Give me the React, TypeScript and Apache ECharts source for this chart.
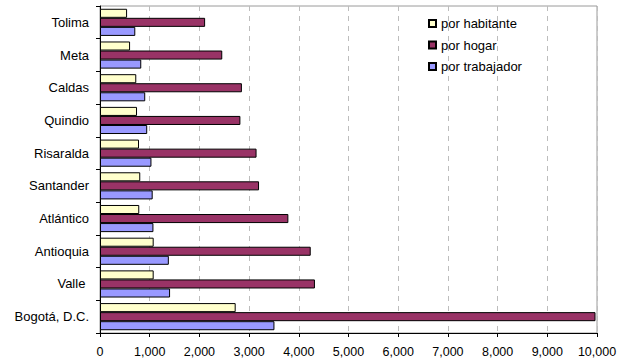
import React, { useEffect, useRef } from "react";
import * as echarts from "echarts";

// Departments, listed from the bottom of the axis to the top
const departments = [
  "Bogotá, D.C.",
  "Valle ",
  "Antioquia",
  "Atlántico",
  "Santander",
  "Risaralda",
  "Quindio",
  "Caldas",
  "Meta",
  "Tolima",
];

const porHabitante = [2730, 1080, 1080, 790, 810, 785, 745, 730, 605, 545];
const porHogar = [9970, 4325, 4240, 3790, 3200, 3150, 2825, 2855, 2460, 2115];
const porTrabajador = [3510, 1410, 1385, 1075, 1060, 1035, 950, 910, 830, 710];

const seriesNames = ["por habitante", "por hogar", "por trabajador"];
const seriesColors = ["#FFFFCC", "#993366", "#9999FF"];

const xMax = 10000;
const xStep = 1000;

const font = "Liberation Sans, Arial, sans-serif";

export default function App() {
  const ref = useRef<HTMLDivElement>(null);

  useEffect(() => {
    if (!ref.current) return;
    const chart = echarts.init(ref.current, null, { renderer: "svg" });
    const values = [porHabitante, porHogar, porTrabajador];

    chart.setOption({
      animation: false,
      textStyle: { fontFamily: font },
      grid: {
        left: 100,
        right: 33,
        top: 6,
        bottom: 27,
        show: true,
        borderColor: "#9a9a9a",
        borderWidth: 1,
      },
      legend: {
        orient: "vertical",
        left: 423,
        top: 12,
        itemWidth: 7,
        itemHeight: 7,
        itemGap: 8.5,
        icon: "rect",
        textStyle: { fontFamily: font, fontSize: 13, color: "#000" },
        data: seriesNames,
      },
      xAxis: {
        type: "value",
        min: 0,
        max: xMax,
        interval: xStep,
        axisLine: { show: true, lineStyle: { color: "#000", width: 1 } },
        axisTick: { show: true, length: 4, lineStyle: { color: "#000" } },
        axisLabel: {
          color: "#000",
          fontSize: 12.5,
          fontFamily: font,
          margin: 12,
          formatter: (v: number) => v.toLocaleString("en-US"),
        },
        splitLine: {
          show: true,
          lineStyle: { color: "#bdbdbd", type: [5, 5], width: 1 },
        },
      },
      yAxis: {
        type: "category",
        data: departments,
        axisLine: { show: true, lineStyle: { color: "#000", width: 1 } },
        axisTick: { show: true, length: 4, alignWithLabel: false, lineStyle: { color: "#000" } },
        axisLabel: { color: "#000", fontSize: 13, fontFamily: font, margin: 11 },
        splitLine: { show: false },
      },
      series: seriesNames.map((name, i) => ({
        name,
        type: "bar",
        data: values[i],
        barGap: "0%",
        barCategoryGap: "17%",
        itemStyle: {
          color: seriesColors[i],
          borderColor: "#000",
          borderWidth: 1,
        },
      })),
    });

    return () => chart.dispose();
  }, []);

  return (
    <div
      ref={ref}
      style={{ position: "absolute", left: 0, top: 0, width: 630, height: 360 }}
    />
  );
}
